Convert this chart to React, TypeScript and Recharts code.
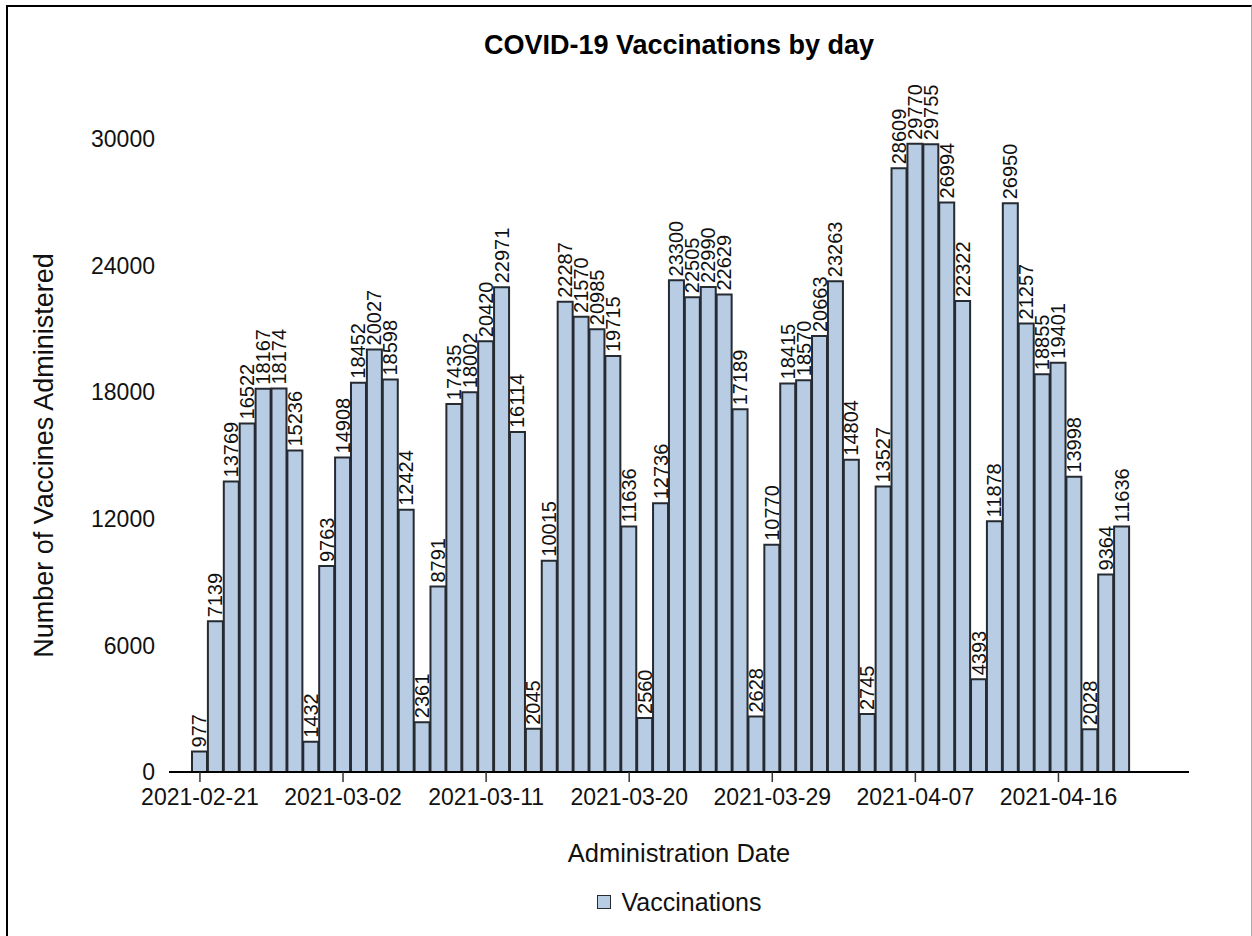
import React from 'react';
import { BarChart, Bar, XAxis, YAxis, Legend, LabelList } from 'recharts';

const dates = [
  '2021-02-21', '2021-02-22', '2021-02-23', '2021-02-24', '2021-02-25', '2021-02-26', '2021-02-27',
  '2021-02-28', '2021-03-01', '2021-03-02', '2021-03-03', '2021-03-04', '2021-03-05', '2021-03-06',
  '2021-03-07', '2021-03-08', '2021-03-09', '2021-03-10', '2021-03-11', '2021-03-12', '2021-03-13',
  '2021-03-14', '2021-03-15', '2021-03-16', '2021-03-17', '2021-03-18', '2021-03-19', '2021-03-20',
  '2021-03-21', '2021-03-22', '2021-03-23', '2021-03-24', '2021-03-25', '2021-03-26', '2021-03-27',
  '2021-03-28', '2021-03-29', '2021-03-30', '2021-03-31', '2021-04-01', '2021-04-02', '2021-04-03',
  '2021-04-04', '2021-04-05', '2021-04-06', '2021-04-07', '2021-04-08', '2021-04-09', '2021-04-10',
  '2021-04-11', '2021-04-12', '2021-04-13', '2021-04-14', '2021-04-15', '2021-04-16', '2021-04-17',
  '2021-04-18', '2021-04-19', '2021-04-20',
];

const vaccinations = [
  977, 7139, 13769, 16522, 18167, 18174, 15236,
  1432, 9763, 14908, 18452, 20027, 18598, 12424,
  2361, 8791, 17435, 18002, 20420, 22971, 16114,
  2045, 10015, 22287, 21570, 20985, 19715, 11636,
  2560, 12736, 23300, 22505, 22990, 22629, 17189,
  2628, 10770, 18415, 18570, 20663, 23263, 14804,
  2745, 13527, 28609, 29770, 29755, 26994, 22322,
  4393, 11878, 26950, 21257, 18855, 19401, 13998,
  2028, 9364, 11636,
];

const yTicks = [0, 6000, 12000, 18000, 24000, 30000];

const data = dates.map((date, i) => ({ date, value: vaccinations[i] }));

const FONT = '"Liberation Sans", Arial, sans-serif';
const BAR_FILL = '#b8cce4';
const BAR_STROKE = '#262a31';

// value written upwards just above each bar
const BarValueLabel = (props: any) => {
  const { x, y, width, value } = props;
  const cx = Number(x) + Number(width) / 2;
  const cy = Number(y) - 4;
  return (
    <text
      x={cx}
      y={cy}
      transform={`rotate(-90, ${cx}, ${cy})`}
      textAnchor="start"
      dominantBaseline="central"
      fontSize={20}
      fontFamily={FONT}
      fill="#111"
    >
      {value}
    </text>
  );
};

const LegendContent = () => (
  <div
    style={{
      display: 'flex',
      justifyContent: 'center',
      alignItems: 'center',
      height: 30,
      fontFamily: FONT,
      fontSize: 25,
      color: '#111',
    }}
  >
    <span
      style={{
        display: 'inline-block',
        width: 12,
        height: 12,
        background: BAR_FILL,
        border: `1.5px solid ${BAR_STROKE}`,
        marginRight: 11,
      }}
    />
    Vaccinations
  </div>
);

export default function App() {
  return (
    <div style={{ position: 'absolute', left: 0, top: 0, width: 1252, height: 936, background: '#fff', overflow: 'hidden' }}>
      <div
        style={{
          position: 'absolute',
          left: 6,
          top: 5,
          width: 1243,
          height: 960,
          borderTop: '2px solid #000',
          borderLeft: '2px solid #000',
          borderRight: '1px solid #aaa',
        }}
      />
      <div
        style={{
          position: 'absolute',
          top: 30,
          left: 169,
          width: 1020,
          textAlign: 'center',
          fontFamily: FONT,
          fontWeight: 'bold',
          fontSize: 27,
          color: '#000',
        }}
      >
        COVID-19 Vaccinations by day
      </div>
      <div style={{ position: 'absolute', left: 0, top: 0 }}>
        <BarChart width={1252} height={936} data={data} margin={{ top: 139, right: 63, bottom: 19, left: 20 }}>
          <XAxis
            dataKey="date"
            interval={8}
            height={115}
            padding={{ left: 23, right: 59 }}
            tickSize={10}
            tickMargin={7}
            axisLine={{ stroke: '#000', strokeWidth: 2 }}
            tickLine={{ stroke: '#333', strokeWidth: 1.5 }}
            tick={{ fontSize: 23, fill: '#111', fontFamily: FONT }}
            label={{
              value: 'Administration Date',
              position: 'insideBottom',
              offset: 25,
              fontSize: 25.5,
              fill: '#111',
              fontFamily: FONT,
            }}
          />
          <YAxis
            domain={[0, 30000]}
            ticks={yTicks}
            width={149}
            axisLine={false}
            tickLine={false}
            tickSize={0}
            tickMargin={14}
            tick={{ fontSize: 23, fill: '#111', fontFamily: FONT }}
            label={{
              value: 'Number of Vaccines Administered',
              angle: -90,
              position: 'insideLeft',
              offset: 23,
              fontSize: 27,
              fill: '#111',
              fontFamily: FONT,
              style: { textAnchor: 'middle' },
            }}
          />
          <Legend
            verticalAlign="bottom"
            height={30}
            wrapperStyle={{ left: 169, width: 1020, bottom: 19 }}
            content={LegendContent}
          />
          <Bar
            dataKey="value"
            name="Vaccinations"
            fill={BAR_FILL}
            stroke={BAR_STROKE}
            strokeWidth={2}
            barSize={15}
            isAnimationActive={false}
          >
            <LabelList dataKey="value" content={BarValueLabel} />
          </Bar>
        </BarChart>
      </div>
    </div>
  );
}
